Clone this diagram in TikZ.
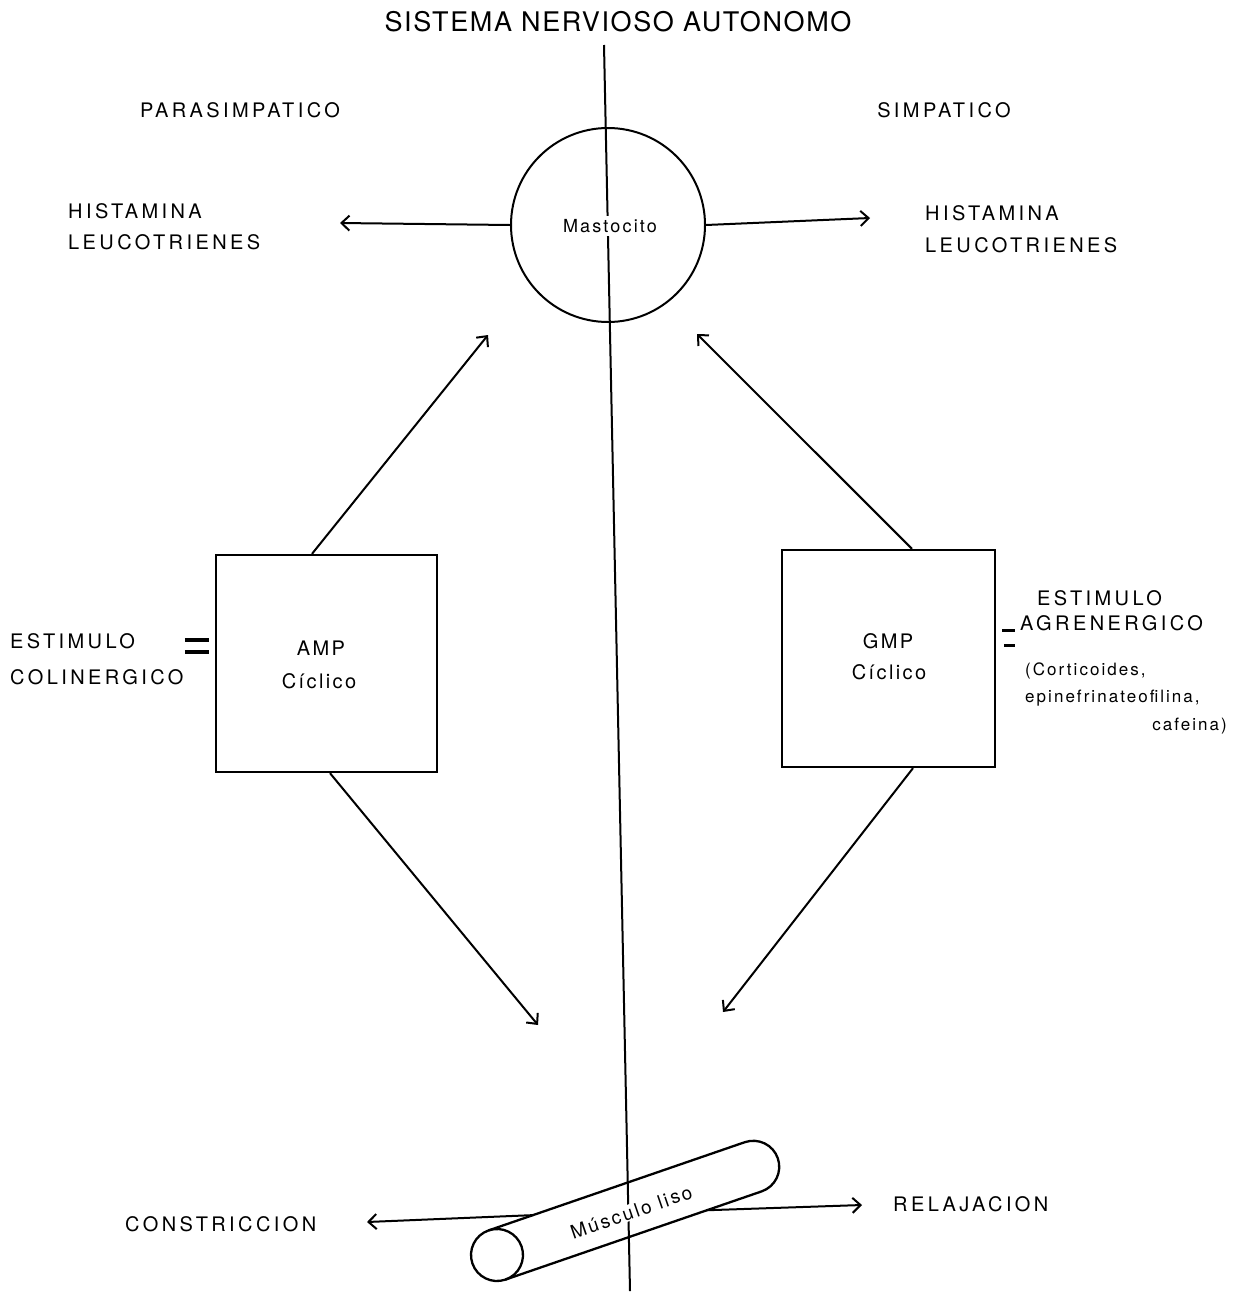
\documentclass[tikz,border=0pt]{standalone}
\usepackage{fontspec}
\setmainfont{TeX Gyre Heros}
\newfontfamily\capsf[LetterSpace=17]{TeX Gyre Heros}
\newfontfamily\titlef[LetterSpace=6]{TeX Gyre Heros}
\newfontfamily\smallf[LetterSpace=12]{TeX Gyre Heros}
\usetikzlibrary{arrows.meta,calc}
\begin{document}
\begin{tikzpicture}[x=1pt,y=-1pt,
  lbl/.style={inner sep=0pt,font=\capsf\fontsize{20}{24}\selectfont},
  sml/.style={inner sep=0pt,font=\smallf\fontsize{17}{20}\selectfont},
  inbox/.style={inner sep=0pt,font=\smallf\fontsize{20}{24}\selectfont},
  boxnode/.style={draw,line width=2.3pt,minimum width=#1,minimum height=217pt,inner sep=0pt},
  myarrow/.style={line width=2pt,-{Straight Barb[length=8pt,width=15pt]}},
  plain/.style={line width=2pt}]
\useasboundingbox (0,0) rectangle (1239,1293);
\fill[white] (0,0) rectangle (1239,1293);

% central vertical line
\coordinate (vtop) at (604,45);
\coordinate (vbot) at (630,1291);
\draw[plain] (vtop) -- (vbot);

% title and sides
\node[inner sep=0pt,font=\titlef\fontsize{27}{30}\selectfont] (title) at (618,22) {SISTEMA NERVIOSO AUTONOMO};
\node[lbl] (para) at (240,110) {PARASIMPATICO};
\node[lbl] (simp) at (944,110) {SIMPATICO};

% mastocito
\node[draw,circle,line width=2pt,minimum size=194pt,inner sep=0pt] (masto) at (608,225) {};
\node[inner sep=3pt,fill=white,font=\smallf\fontsize{18}{20}\selectfont] (mastot) at (610,226) {Mastocito};

\node[lbl,anchor=west] (hisL) at (68,211) {HISTAMINA};
\node[lbl,anchor=west] (leuL) at (68,242) {LEUCOTRIENES};
\node[lbl,anchor=west] (hisR) at (925,213) {HISTAMINA};
\node[lbl,anchor=west] (leuR) at (925,245) {LEUCOTRIENES};
\coordinate (mL) at (340,223);
\coordinate (mR) at (870,218);
\draw[myarrow] (masto.west) -- (mL);
\draw[myarrow] (masto.east) -- (mR);

% boxes
\node[boxnode=221pt] (amp) at (326.5,663.5) {};
\node[boxnode=213pt] (gmp) at (888.5,658.5) {};
\node[inbox] (ampt) at (321,648) {AMP};
\node[inbox] (ampc) at (319,681) {Cíclico};
\node[inbox] (gmpt) at (888,641) {GMP};
\node[inbox] (gmpc) at (889,672) {Cíclico};

% arrows boxes -> mastocito
\coordinate (tipA) at (488,335);
\coordinate (tipG) at (697,334);
\draw[myarrow] ($(amp.north)+(-14.5,0)$) -- (tipA);
\draw[myarrow] ($(gmp.north)+(23.5,0)$) -- (tipG);

% arrows boxes -> muscle
\coordinate (tipA2) at (538,1025);
\coordinate (tipG2) at (723,1012);
\draw[myarrow] ($(amp.south)+(3.5,0)$) -- (tipA2);
\draw[myarrow] ($(gmp.south)+(24.5,0)$) -- (tipG2);

% left stimulus
\node[lbl,anchor=west] (estL) at (10,641) {ESTIMULO};
\node[lbl,anchor=west] (colL) at (10,677) {COLINERGICO};
\draw[line width=4pt] ($(amp.west)+(-30,-24)$) -- ($(amp.west)+(-6,-24)$);
\draw[line width=4pt] ($(amp.west)+(-30,-12)$) -- ($(amp.west)+(-6,-12)$);

% right stimulus
\node[lbl,anchor=west] (estR) at (1037,598) {ESTIMULO};
\node[lbl,anchor=west] (agrR) at (1020,623) {AGRENERGICO};
\draw[line width=3.5pt] ($(gmp.east)+(6,-28)$) -- ($(gmp.east)+(19,-28)$);
\draw[line width=3.5pt] ($(gmp.east)+(8,-13)$) -- ($(gmp.east)+(19,-13)$);
\node[sml,anchor=west] (cort) at (1025,671) {(Corticoides,};
\node[sml,anchor=west] (epin) at (1025,698) {epinefrinateofilina,};
\node[sml,anchor=east] (cafe) at (1227,726) {cafeina)};

% smooth muscle tube
\begin{scope}[shift={(497,1255)},rotate=19]
  \draw[line width=2.3pt] (0,0) circle (26);
  \draw[line width=2.3pt] (0,-26) -- (271,-26) arc[start angle=-90,end angle=90,radius=26] -- (0,26);
  \coordinate (tubeL) at (47,-26);
  \coordinate (tubeR) at (213,26);
  \node[inner sep=1pt,fill=white,rotate=19,font=\smallf\fontsize{19}{22}\selectfont] (musc) at (141,3) {Músculo liso};
\end{scope}

\coordinate (cons) at (367,1222);
\coordinate (rela) at (862,1205);
\draw[myarrow] (tubeL) -- (cons);
\draw[myarrow] (tubeR) -- (rela);
\node[lbl,anchor=west] (consT) at (125,1224) {CONSTRICCION};
\node[lbl,anchor=west] (relaT) at (893,1204) {RELAJACION};
\end{tikzpicture}
\end{document}
